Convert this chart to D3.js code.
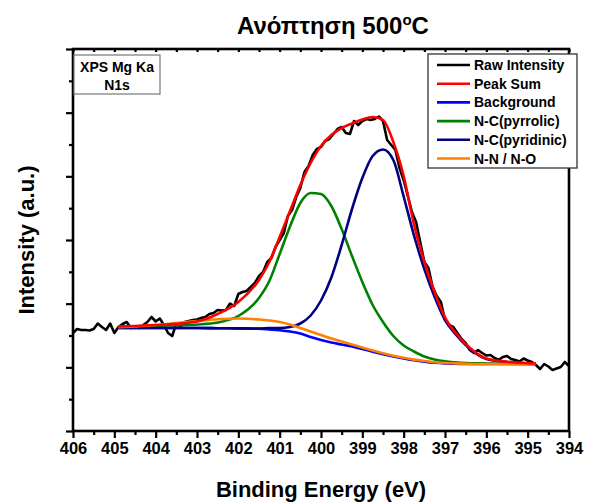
<!DOCTYPE html>
<html><head><meta charset="utf-8">
<script src="https://cdn.jsdelivr.net/npm/d3@7"></script>
<style>
body{margin:0;background:#fff}
text{font-family:"Liberation Sans",Arial,sans-serif;font-weight:bold;fill:#000}
</style>
</head><body>
<svg id="chart" width="594" height="502"></svg>
<script>
// ---------- data ----------
const rawEnergy = [406.0,405.9,405.8,405.7,405.6,405.5,405.4,405.3,405.2,405.1,
405.0,404.9,404.8,404.7,404.6,404.5,404.4,404.3,404.2,404.1,
404.0,403.9,403.8,403.7,403.6,403.5,403.4,403.3,403.2,403.1,
403.0,402.9,402.8,402.7,402.6,402.5,402.4,402.3,402.2,402.1,
402.0,401.9,401.8,401.7,401.6,401.5,401.4,401.3,401.2,401.1,
401.0,400.9,400.8,400.7,400.6,400.5,400.4,400.3,400.2,400.1,
400.0,399.9,399.8,399.7,399.6,399.5,399.4,399.3,399.2,399.1,
399.0,398.9,398.8,398.7,398.6,398.5,398.4,398.3,398.2,398.1,
398.0,397.9,397.8,397.7,397.6,397.5,397.4,397.3,397.2,397.1,
397.0,396.9,396.8,396.7,396.6,396.5,396.4,396.3,396.2,396.1,
396.0,395.9,395.8,395.7,395.6,395.5,395.4,395.3,395.2,395.1,
395.0,394.9,394.8,394.7,394.6,394.5,394.4,394.3,394.2,394.1,
394.0];
const rawIntensity = [98,102,101,101,100.5,102,107.5,104,101,107.5,
98,104,107,109,103,104.5,103,106,109,114,
109.5,112.5,106,98,95,107.5,104.5,109,110,111,
111.5,113,114,117,118,121,120.5,121,127.5,125,
137,139,140,144,148,155,159,169,173,184,
191,198,215,221,234,243,259,265,276,282,
284,290,292,297,302,304,298,297,310,306,
310,312,311,312,314.5,310,291,286,281,263,
251,235,219,209,189,169,163,144,135,129,
111,106,104,98,92,88,81,78,81,78,
75.5,76,73,71,74,75,72,71,69.5,72.5,
70.5,69,66,62,67,64.5,61,62.5,64,69,
65];

const fitEnergy = [404.9,404.5,404.0,403.5,403.0,402.5,402.0,401.5,401.25,401.0,
400.75,400.5,400.25,400.0,399.75,399.5,399.25,399.0,398.75,398.5,
398.25,398.0,397.75,397.5,397.25,397.0,396.75,396.5,396.0,395.5,
395.0,394.8];
const peakSum    = [104.5,105,106,107.2,109.5,117,129,151,169,194,
220,246,268,285,296,303,307.5,311.5,314,311,
289,255,206.6,169,138.5,113.7,98.5,87,72.5,69.2,
67.8,67.6];
const background = [103,103,103,103,103,102.8,102.6,102.2,101.5,100.7,
99.5,97.5,94,91,88.5,86.5,84.5,82,79.3,76.8,
74.5,72.5,70.8,69.4,68.3,67.6,67.2,67,67,67,
67,67];
const pyrrolic   = [104.3,104.6,105,105.7,106.5,108.5,115,133,150,177,
204.5,228,238,237,225,202,175,149,126,109,
95,85.5,79.5,74.5,71.5,69.7,68.7,68,67.5,67.2,
67,67];
const pyridinic  = [103,103,103,103,103,102.8,102.6,102.5,103,103,
104,107.5,115.5,130.5,153.5,186,222,253,275,281.5,
271,234.5,195.5,162,134,111,97,86,72,69,
67.7,67.5];
const nnno       = [103.7,104.5,106,108,110,111.7,112.5,111.5,110.5,109,
106.5,103,99.5,96,92.5,89.5,86.5,83.5,80.5,77.8,
75.3,73.2,71.4,70,68.8,68,67.6,67.3,67,67,
67,67];

const xTickValues = [406,405,404,403,402,401,400,399,398,397,396,395,394];
const xMinorValues = [405.5,404.5,403.5,402.5,401.5,400.5,399.5,398.5,397.5,396.5,395.5,394.5];
const yMax = 382;
const yTickValues = [0,63.67,127.33,191,254.67,318.33,382];
const yMinorValues = [31.83,95.5,159.17,222.83,286.5,350.17];

const seriesNames = ["Raw Intensity","Peak Sum","Background","N-C(pyrrolic)","N-C(pyridinic)","N-N / N-O"];
const seriesColors = ["#000000","#ff0000","#0000ff","#008000","#000080","#ff8000"];

const titleMain = "Ανόπτηση 500";
const titleSup = "o";
const titleEnd = "C";
const xTitle = "Binding Energy (eV)";
const yTitle = "Intensity (a.u.)";
const insetLines = ["XPS Mg Ka","N1s"];

// ---------- drawing ----------
const svg = d3.select("#chart");
const L = 73, R = 569, T = 49, B = 431;
const x = d3.scaleLinear().domain([406,394]).range([L,R]);
const y = d3.scaleLinear().domain([0,yMax]).range([B,T]);

const fitLine = vals => d3.line()
  .x((d,i)=>x(fitEnergy[i])).y(d=>y(d)).curve(d3.curveMonotoneX)(vals);

const plot = svg.append("g");
// raw
plot.append("path")
  .attr("d", d3.line().x((d,i)=>x(rawEnergy[i])).y(d=>y(d))(rawIntensity))
  .attr("fill","none").attr("stroke",seriesColors[0]).attr("stroke-width",2.6)
  .attr("stroke-linejoin","round");

const fits = [
  [background, seriesColors[2]],
  [pyrrolic, seriesColors[3]],
  [pyridinic, seriesColors[4]],
  [nnno, seriesColors[5]],
  [peakSum, seriesColors[1]]
];
fits.forEach(([vals,col])=>{
  plot.append("path").attr("d",fitLine(vals))
    .attr("fill","none").attr("stroke",col).attr("stroke-width",2.6);
});

// axes
const axW = 2.6;
const gx = svg.append("g").attr("transform",`translate(0,${B})`)
  .call(d3.axisBottom(x).tickValues(xTickValues).tickSize(7).tickPadding(4).tickFormat(d3.format("d")));
const gxm = svg.append("g").attr("transform",`translate(0,${B})`)
  .call(d3.axisBottom(x).tickValues(xMinorValues).tickSize(4).tickFormat(""));
const gy = svg.append("g").attr("transform",`translate(${L},0)`)
  .call(d3.axisLeft(y).tickValues(yTickValues).tickSize(7).tickFormat(""));
const gym = svg.append("g").attr("transform",`translate(${L},0)`)
  .call(d3.axisLeft(y).tickValues(yMinorValues).tickSize(4).tickFormat(""));
const gt = svg.append("g").attr("transform",`translate(0,${T})`)
  .call(d3.axisBottom(x).tickValues(xTickValues.concat(xMinorValues)).tickSize(3).tickFormat(""));
[gx,gxm,gy,gym,gt].forEach(g=>{
  g.select(".domain").remove();
  g.selectAll(".tick line").attr("stroke","#000").attr("stroke-width",2.2);
});
gx.selectAll(".tick text").style("font-size","16.5px").style("font-family","'Liberation Sans',Arial,sans-serif").style("font-weight","bold").attr("fill","#000");

// frame
svg.append("rect").attr("x",L).attr("y",T).attr("width",R-L).attr("height",B-T)
  .attr("fill","none").attr("stroke","#000").attr("stroke-width",axW);

// inset box
const ib = svg.append("g");
ib.append("rect").attr("x",L+1).attr("y",55).attr("width",86).attr("height",39)
  .attr("fill","#fff").attr("stroke","#777").attr("stroke-width",1.2);
ib.selectAll("text").data(insetLines).join("text")
  .attr("x",L+44).attr("y",(d,i)=>72+i*18).attr("text-anchor","middle")
  .style("font-size","14px").text(d=>d);

// legend
const lg = svg.append("g");
lg.append("rect").attr("x",428).attr("y",54).attr("width",149).attr("height",114)
  .attr("fill","#fff").attr("stroke","#333").attr("stroke-width",1.3);
seriesNames.forEach((n,i)=>{
  const yy = 65 + i*18.7;
  lg.append("line").attr("x1",437).attr("x2",470).attr("y1",yy).attr("y2",yy)
    .attr("stroke",seriesColors[i]).attr("stroke-width",2.6);
  lg.append("text").attr("x",474).attr("y",yy).attr("dy","0.36em")
    .style("font-size","14px").text(n);
});

// titles
const tt = svg.append("text").attr("x",333).attr("y",34).attr("text-anchor","middle")
  .style("font-size","24px");
tt.append("tspan").text(titleMain);
tt.append("tspan").attr("dy","-9").style("font-size","15px").text(titleSup);
tt.append("tspan").attr("dy","9").text(titleEnd);

svg.append("text").attr("x",(L+R)/2).attr("y",497).attr("text-anchor","middle")
  .style("font-size","22px").text(xTitle);
svg.append("text").attr("transform",`translate(34,${(T+B)/2}) rotate(-90)`)
  .attr("text-anchor","middle").style("font-size","22px").text(yTitle);
</script>
</body></html>
